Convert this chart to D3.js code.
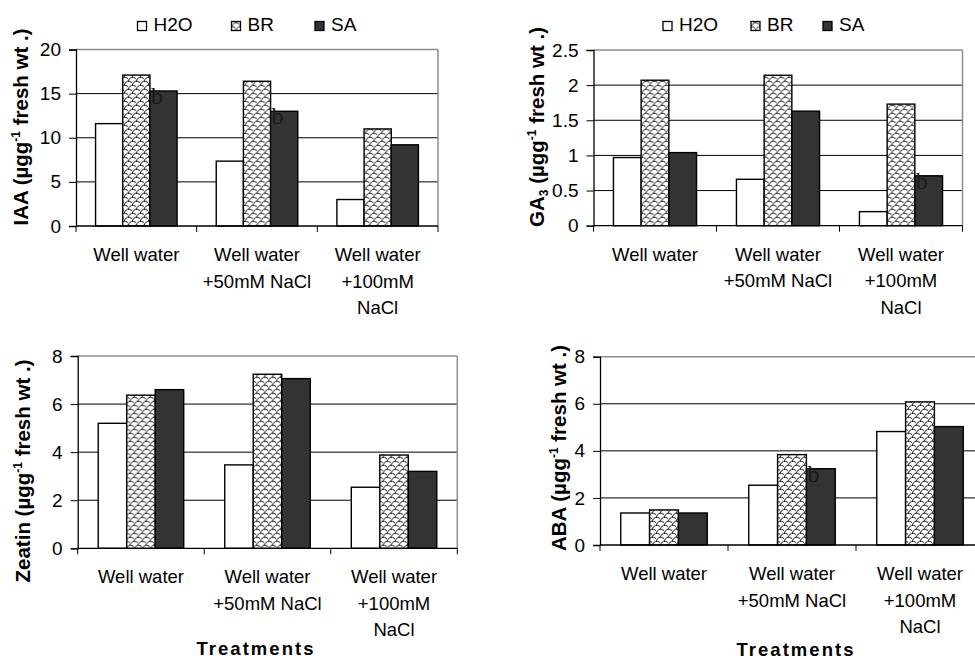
<!DOCTYPE html>
<html>
<head>
<meta charset="utf-8">
<script src="https://cdn.jsdelivr.net/npm/d3@7"></script>
<style>
  html, body { margin: 0; padding: 0; background: #fff; }
  svg { display: block; font-family: "Liberation Sans", Arial, sans-serif; }
</style>
</head>
<body>
<svg id="chart" width="975" height="659"></svg>
<script>
// ---------------- DATA ----------------
const categories = [
  ["Well water"],
  ["Well water", "+50mM NaCl"],
  ["Well water", "+100mM", "NaCl"]
];
const seriesNames = ["H2O", "BR", "SA"];

// values per category: [H2O, BR, SA]
const iaaValues    = [[11.6, 17.1, 15.3], [7.35, 16.4, 13.0], [3.0, 11.0, 9.2]];
const ga3Values    = [[0.97, 2.07, 1.04], [0.66, 2.14, 1.63], [0.20, 1.73, 0.71]];
const zeatinValues = [[5.2, 6.37, 6.6], [3.47, 7.24, 7.06], [2.54, 3.88, 3.2]];
const abaValues    = [[1.36, 1.49, 1.36], [2.54, 3.84, 3.24], [4.82, 6.08, 5.03]];

const iaaTicks    = [0, 5, 10, 15, 20];
const ga3Ticks    = [0, 0.5, 1, 1.5, 2, 2.5];
const zeatinTicks = [0, 2, 4, 6, 8];
const abaTicks    = [0, 2, 4, 6, 8];

// letter annotations: [category index, series index, label]
const iaaNotes = [[0, 2, "b"], [1, 2, "b"]];
const ga3Notes = [[2, 2, "b"]];
const zeatinNotes = [];
const abaNotes = [[1, 2, "b"]];

const xTitle = "Treatments";

// ---------------- DRAW ----------------
const svg = d3.select("#chart");
const defs = svg.append("defs");
const pat = defs.append("pattern")
  .attr("id", "weave").attr("patternUnits", "userSpaceOnUse")
  .attr("width", 8).attr("height", 8);
pat.append("rect").attr("width", 8).attr("height", 8).attr("fill", "#fff");
pat.append("path")
  .attr("d", "M0,5 Q3,-1 8,2.5 M-4,9 Q-1,3 4,6.5 M4,9 Q7,3 12,6.5 M-4,1 Q-1,-5 4,-1.5 M4,1 Q7,-5 12,-1.5")
  .attr("fill", "none").attr("stroke", "#000").attr("stroke-width", 0.9);

const fills = { H2O: "#ffffff", BR: "url(#weave)", SA: "#333333" };

function panel(cfg) {
  const g = svg.append("g");
  const x = d3.scaleBand().domain(d3.range(categories.length)).range([cfg.x0, cfg.x1]).padding(0);
  const xs = d3.scaleBand().domain(seriesNames).range([0, x.bandwidth()])
    .paddingInner(0).paddingOuter(0.72);
  const y = d3.scaleLinear().domain([0, d3.max(cfg.ticks)]).range([cfg.yb, cfg.yt]);

  // gridlines
  g.selectAll(".grid").data(cfg.ticks.filter(t => t > 0 && t < d3.max(cfg.ticks)))
    .join("line")
    .attr("x1", cfg.x0).attr("x2", cfg.x1)
    .attr("y1", d => y(d)).attr("y2", d => y(d))
    .attr("stroke", "#000").attr("stroke-width", 1);

  // frame top and right (grey)
  g.append("line").attr("x1", cfg.x0).attr("x2", cfg.x1)
    .attr("y1", y(d3.max(cfg.ticks))).attr("y2", y(d3.max(cfg.ticks)))
    .attr("stroke", "#8c8c8c").attr("stroke-width", 1.5);
  g.append("line").attr("x1", cfg.x1).attr("x2", cfg.x1)
    .attr("y1", cfg.yt).attr("y2", cfg.yb)
    .attr("stroke", "#8c8c8c").attr("stroke-width", 1.5);

  // bars
  const grp = g.selectAll(".cat").data(cfg.values).join("g")
    .attr("transform", (d, i) => `translate(${x(i)},0)`);
  grp.selectAll("rect").data(d => d.map((v, j) => ({ s: seriesNames[j], v })))
    .join("rect")
    .attr("x", d => xs(d.s)).attr("width", xs.bandwidth())
    .attr("y", d => y(d.v)).attr("height", d => y(0) - y(d.v))
    .attr("fill", d => fills[d.s]).attr("stroke", "#000").attr("stroke-width", 1.4);

  // annotations
  g.selectAll(".note").data(cfg.notes).join("text")
    .attr("x", d => x(d[0]) + xs(seriesNames[d[1]]) + 1)
    .attr("y", d => y(cfg.values[d[0]][d[1]]) + 13)
    .attr("font-family", "'Liberation Serif', 'Times New Roman', serif")
    .attr("font-size", 24).attr("fill", "#1a1a1a")
    .text(d => d[2]);

  // y axis
  const ya = g.append("g").attr("transform", `translate(${cfg.x0},0)`)
    .call(d3.axisLeft(y).tickValues(cfg.ticks).tickSize(7).tickPadding(8).tickFormat(d => String(d)));
  ya.select(".domain").attr("stroke", "#000").attr("stroke-width", 1.3);
  ya.selectAll(".tick line").attr("stroke", "#000");
  ya.selectAll(".tick text").attr("font-size", 19).attr("fill", "#000")
    .attr("font-family", "'Liberation Sans', Arial, sans-serif");

  // x axis
  g.append("line").attr("x1", cfg.x0).attr("x2", cfg.x1)
    .attr("y1", y(0)).attr("y2", y(0)).attr("stroke", "#000").attr("stroke-width", 1.3);
  const bounds = d3.range(categories.length).map(i => x(i)).concat([cfg.x1]);
  g.selectAll(".xt").data(bounds).join("line")
    .attr("x1", d => d).attr("x2", d => d)
    .attr("y1", y(0)).attr("y2", y(0) + 6).attr("stroke", "#000").attr("stroke-width", 1);

  const lab = g.selectAll(".xl").data(categories).join("text")
    .attr("text-anchor", "middle").attr("font-size", 18.5).attr("fill", "#000")
    .attr("transform", (d, i) => `translate(${x(i) + x.bandwidth() / 2},${y(0) + 35})`);
  lab.selectAll("tspan").data(d => d).join("tspan")
    .attr("x", 0).attr("y", (d, k) => k * 26.5).text(d => d);

  // y title
  const t = g.append("text")
    .attr("transform", `translate(${cfg.tx},${cfg.ty}) rotate(-90)`)
    .attr("text-anchor", "middle").attr("font-weight", "bold").attr("font-size", 20.5).attr("fill", "#000");
  t.append("tspan").text(cfg.title);
  if (cfg.sub) t.append("tspan").attr("font-size", 12).attr("dy", 4).text(cfg.sub);
  t.append("tspan").attr("dy", cfg.sub ? -4 : 0).text(" (µgg");
  t.append("tspan").attr("font-size", 12).attr("dy", -8).text("-1");
  t.append("tspan").attr("dy", 8).text(" fresh wt .)");

  // legend
  if (cfg.legend) {
    const lg = g.selectAll(".lg").data(seriesNames).join("g")
      .attr("transform", (d, i) => `translate(${cfg.legend[i]},21.5)`);
    lg.append("rect").attr("width", 9).attr("height", 9)
      .attr("fill", d => fills[d]).attr("stroke", "#000").attr("stroke-width", 1.3);
    lg.append("text").attr("x", 16).attr("y", 9.5).attr("font-size", 19).attr("fill", "#000").text(d => d);
  }
  if (cfg.xtitle) {
    g.append("text").attr("x", cfg.xtitle[0]).attr("y", cfg.xtitle[1])
      .attr("text-anchor", "middle").attr("font-weight", "bold").attr("font-size", 18.5)
      .attr("textLength", 117).attr("lengthAdjust", "spacing").text(xTitle);
  }
}

panel({ values: iaaValues, ticks: iaaTicks, notes: iaaNotes, x0: 76, x1: 438, yb: 226, yt: 49.5,
  title: "IAA", tx: 27.5, ty: 127, legend: [137.5, 231.5, 315] });
panel({ values: ga3Values, ticks: ga3Ticks, notes: ga3Notes, x0: 593.5, x1: 962.5, yb: 225.7, yt: 50,
  title: "GA", sub: "3", tx: 544, ty: 127, legend: [663, 751, 823] });
panel({ values: zeatinValues, ticks: zeatinTicks, notes: zeatinNotes, x0: 77.7, x1: 457.3, yb: 548.3, yt: 356,
  title: "Zeatin", tx: 30, ty: 471, xtitle: [255, 655] });
panel({ values: abaValues, ticks: abaTicks, notes: abaNotes, x0: 600, x1: 984, yb: 545, yt: 356.7,
  title: "ABA", tx: 566, ty: 448, xtitle: [795, 656] });
</script>
</body>
</html>
